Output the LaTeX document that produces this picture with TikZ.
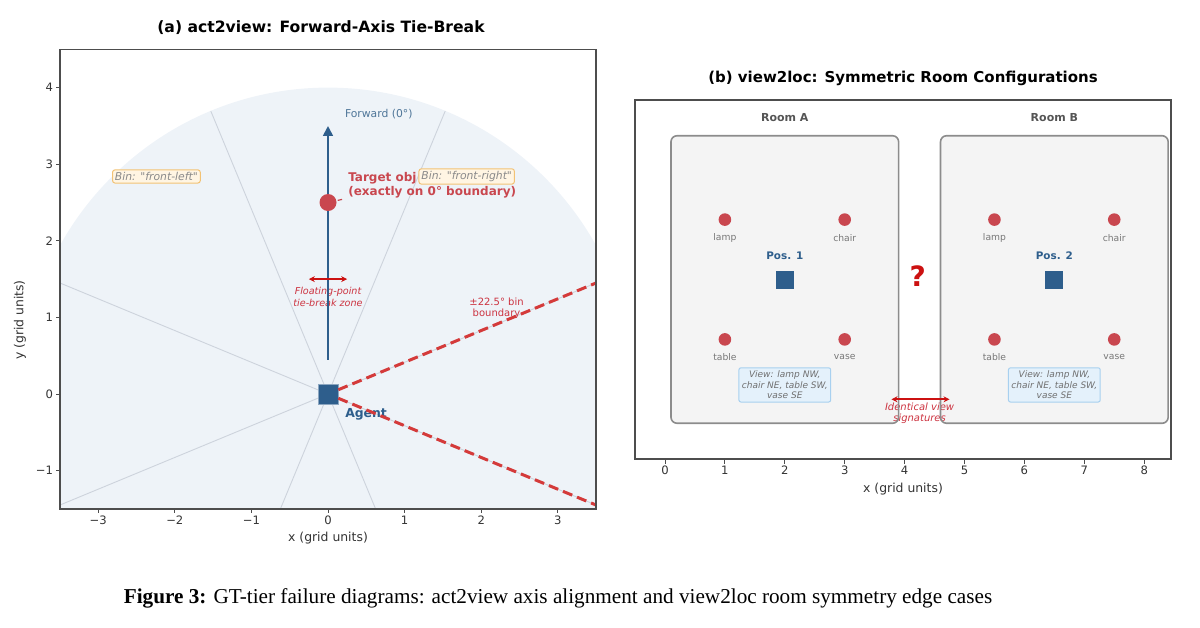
\documentclass[tikz,border=0pt]{standalone}
\usepackage{fontspec}
\setmainfont{DejaVu Sans}[Ligatures=TeXOff]
\newfontfamily\capfont{Liberation Serif}
\usepackage{tikz}
\usetikzlibrary{arrows.meta,positioning}

\definecolor{agentblue}{HTML}{2E5E8C}
\definecolor{objred}{HTML}{C9474F}
\definecolor{arrowred}{HTML}{CC1111}
\definecolor{bndred}{HTML}{D43A3A}
\definecolor{zonered}{HTML}{CC3340}
\definecolor{fovfill}{HTML}{EEF3F8}
\definecolor{sectorgray}{HTML}{CDD3DC}
\definecolor{framegray}{HTML}{4D4D4D}
\definecolor{roomfill}{HTML}{F4F4F4}
\definecolor{roomedge}{HTML}{8C8C8C}
\definecolor{binfill}{HTML}{FFF5E3}
\definecolor{binedge}{HTML}{F2C275}
\definecolor{bintext}{HTML}{8A8A8A}
\definecolor{viewfill}{HTML}{E4F1FB}
\definecolor{viewedge}{HTML}{A8D0EF}
\definecolor{viewtext}{HTML}{707070}
\definecolor{fwdtext}{HTML}{4F7699}
\definecolor{ticktext}{HTML}{333333}
\definecolor{roomtext}{HTML}{555555}
\definecolor{objtext}{HTML}{777777}

\newcommand{\fsz}[2]{\fontsize{#1}{#2}\selectfont}

\begin{document}
\begin{tikzpicture}[
  x=0.5pt, y=-0.5pt,
  >=Stealth,
  every node/.style={font=\fsz{5pt}{6pt}},
  paneltitle/.style={font=\fsz{7.8pt}{9pt}\bfseries, text=black},
  axframe/.style={draw=framegray, line width=0.75pt},
  ticklbl/.style={font=\fsz{5.8pt}{7pt}, text=ticktext, inner sep=1pt},
  axislbl/.style={font=\fsz{6.2pt}{7pt}, text=ticktext},
  sector/.style={draw=sectorgray, line width=0.45pt},
  agentbox/.style={rectangle, fill=agentblue, draw=agentblue!55, line width=0.3pt,
    minimum size=10pt, inner sep=0pt},
  posbox/.style={rectangle, fill=agentblue, minimum size=9pt, inner sep=0pt},
  tgtdot/.style={circle, fill=objred, minimum size=8.5pt, inner sep=0pt},
  objdot/.style={circle, fill=objred, minimum size=6.3pt, inner sep=0pt},
  fwdarrow/.style={-{Triangle[width=4.8pt,length=5pt]}, draw=agentblue, line width=1.4pt},
  fwdlbl/.style={font=\fsz{5.4pt}{6.5pt}, text=fwdtext},
  tgtlbl/.style={font=\fsz{6pt}{7pt}\bfseries, text=objred, align=left, inner sep=0pt},
  agentlbl/.style={font=\fsz{6.2pt}{7pt}\bfseries, text=agentblue, inner sep=0pt},
  binbox/.style={draw=binedge, fill=binfill, rounded corners=1.2pt, line width=0.5pt,
    font=\fsz{5.4pt}{6.4pt}\itshape, text=bintext, inner sep=1.2pt},
  zonelbl/.style={font=\fsz{4.8pt}{5.8pt}\itshape, text=zonered, align=center, inner sep=0pt},
  bndlbl/.style={font=\fsz{5pt}{5.8pt}, text=zonered, align=center, inner sep=0pt},
  boundary/.style={draw=bndred, line width=1.5pt, dash pattern=on 5pt off 2.6pt},
  dblarrow/.style={{Stealth[length=3pt,width=3pt]}-{Stealth[length=3pt,width=3pt]},
    draw=arrowred, line width=0.9pt},
  roomarea/.style={fill=roomfill, rounded corners=3pt},
  room/.style={draw=roomedge, line width=0.8pt, rounded corners=3pt},
  roomlbl/.style={font=\fsz{5.5pt}{6.5pt}\bfseries, text=roomtext},
  objlbl/.style={font=\fsz{4.6pt}{5.5pt}, text=objtext, inner sep=0pt},
  poslbl/.style={font=\fsz{5.2pt}{6pt}\bfseries, text=agentblue, inner sep=0pt},
  viewbox/.style={draw=viewedge, fill=viewfill, rounded corners=1pt, line width=0.5pt,
    font=\fsz{4.5pt}{5.3pt}\itshape, text=viewtext, align=center, inner sep=1.5pt,
    minimum width=45pt},
  qmark/.style={font=\fsz{14pt}{16pt}\bfseries, text=arrowred},
  captxt/.style={font=\capfont\fsz{10.6pt}{12pt}, text=black},
]
\useasboundingbox (0,0) rectangle (1200,627);

% Panel titles
\node[paneltitle] (ttla) at (321,28) {(a) act2view: Forward-Axis Tie-Break};
\node[paneltitle, font=\fsz{7.5pt}{9pt}\bfseries] (ttlb) at (903,78) {(b) view2loc: Symmetric Room Configurations};

% (a) act2view
\begin{scope}[shift={(328,394)}]
\begin{scope}[x=38.3pt, y=38.3pt]
  \begin{scope}
    \clip (-3.5,-1.5) rectangle (3.5,4.5);
    \fill[fovfill] (0,0) circle (4);
    \foreach \a in {22.5,67.5,...,337.5}
      \draw[sector] (0,0) -- (\a:4);
  \end{scope}

  % texts first, lines on top
  \node[zonelbl] (tiez) at (0,1.27) {Floating-point\\tie-break zone};
  \node[bndlbl] (bndl) at (2.2,1.12) {±22.5° bin\\boundary};
  \node[tgtlbl, anchor=west] (tgtl) at (0.26,2.73) {Target obj\\(exactly on 0° boundary)};
  \node[agentlbl, anchor=west] (agtl) at (0.22,-0.27) {Agent};
  \node[fwdlbl, anchor=west] (fwdl) at (0.13,3.65) {Forward (0°)};

  \node[agentbox] (agent) at (0,0) {};
  \coordinate (fwd0) at (0,0.45);
  \coordinate (fwd1) at (0,3.5);
  \draw[fwdarrow] (fwd0) -- (fwd1);

  \node[tgtdot] (tgt) at (0,2.5) {};
  \draw[draw=objred, line width=0.6pt, shorten <=0.5pt, shorten >=3pt] (tgt) -- (tgtl.south west);

  \node[binbox] (binfl) at (-2.24,2.84) {Bin: "front-left"};
  \node[binbox] (binfr) at (1.81,2.84) {Bin: "front-right"};

  \coordinate (tzl) at (-0.25,1.5);
  \coordinate (tzr) at (0.25,1.5);
  \draw[dblarrow] (tzl) -- (tzr);

  \coordinate (bndu) at (22.5:3.788);
  \coordinate (bndd) at (-22.5:3.788);
  \draw[boundary] (agent) -- (bndu);
  \draw[boundary] (agent) -- (bndd);

  % axes
  \draw[axframe] (-3.5,-1.5) rectangle (3.5,4.5);
  \foreach \t/\l [count=\i] in {-3/−3,-2/−2,-1/−1,0/0,1/1,2/2,3/3}
    \draw[axframe, line width=0.5pt] (\t,-1.5) -- ++(0,-2.2pt)
      node[ticklbl, below] (xa\i) {\l};
  \foreach \t/\l [count=\i] in {-1/−1,0/0,1/1,2/2,3/3,4/4}
    \draw[axframe, line width=0.5pt] (-3.5,\t) -- ++(-2.2pt,0)
      node[ticklbl, left] (ya\i) {\l};
\end{scope}
\end{scope}
\node[axislbl] (xlbla) at (328,538) {x (grid units)};
\node[axislbl, rotate=90] (ylbla) at (20,320) {y (grid units)};

% (b) view2loc
\begin{scope}[shift={(665,399.3)}]
\begin{scope}[x=29.95pt, y=29.95pt]
  \foreach \cx in {2,6.5}
    \fill[roomarea] (\cx-1.9,-0.4) rectangle (\cx+1.9,4.4);
  \node[zonelbl, font=\fsz{5pt}{5.8pt}\itshape] (sigl) at (4.25,-0.23) {Identical view\\signatures};

  \foreach \cx/\rn/\pn in {2/A/1, 6.5/B/2} {
    \draw[room] (\cx-1.9,-0.4) rectangle (\cx+1.9,4.4);
    \node[roomlbl] (room\rn) at (\cx,4.7) {Room \rn};
    \node[objdot] (lamp\rn) at (\cx-1,3) {};
    \node[objdot] (chair\rn) at (\cx+1,3) {};
    \node[objdot] (table\rn) at (\cx-1,1) {};
    \node[objdot] (vase\rn) at (\cx+1,1) {};
    \node[objlbl] (lampl\rn) at (\cx-1,2.7) {lamp};
    \node[objlbl] (chairl\rn) at (\cx+1,2.7) {chair};
    \node[objlbl] (tablel\rn) at (\cx-1,0.7) {table};
    \node[objlbl] (vasel\rn) at (\cx+1,0.7) {vase};
    \node[posbox] (pos\rn) at (\cx,2) {};
    \node[poslbl] (posl\rn) at (\cx,2.4) {Pos. \pn};
    \node[viewbox] (view\rn) at (\cx,0.24) {View: lamp NW,\\chair NE, table SW,\\vase SE};
  }

  \node[qmark] (qm) at (4.22,2.05) {?};
  \coordinate (sigw) at (3.78,0);
  \coordinate (sige) at (4.75,0);
  \draw[dblarrow] (sigw) -- (sige);

  % axes
  \draw[axframe] (-0.5,-1) rectangle (8.45,5);
  \foreach \t [count=\i] in {0,...,8}
    \draw[axframe, line width=0.5pt] (\t,-1) -- ++(0,-2.2pt)
      node[ticklbl, below] (xb\i) {\t};
\end{scope}
\end{scope}
\node[axislbl] (xlblb) at (903,489) {x (grid units)};

% caption
\node[captxt] (cap) at (558,598) {\textbf{Figure 3:} GT-tier failure diagrams: act2view axis alignment and view2loc room symmetry edge cases};
\end{tikzpicture}
\end{document}
